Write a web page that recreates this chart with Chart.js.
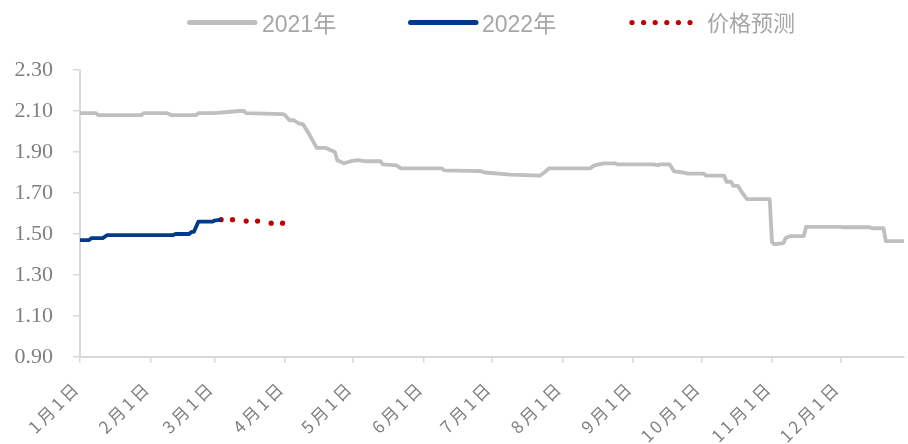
<!DOCTYPE html>
<html><head><meta charset="utf-8">
<script src="https://cdn.jsdelivr.net/npm/chart.js@4"></script>
<style>html,body{margin:0;padding:0;background:#fff;overflow:hidden}canvas{display:block}</style>
</head><body>
<canvas id="c" width="908" height="444"></canvas>
<script>
// ---- data (day of year, price) ----
const days2021 = [0,7,8,27,28,38,40,51,52,59,70,72,73,89,90,92,94,96,98,101,104,108,110,112,113,116,119,122,125,132,133,139,141,159,160,176,178,189,202,204,206,224,226,230,235,236,252,254,255,259,261,265,267,274,275,283,284,286,287,289,291,293,303,304,305,309,310,312,318,319,334,335,347,348,353,354,362];
const values2021 = [2.09,2.09,2.08,2.08,2.09,2.09,2.08,2.08,2.09,2.09,2.10,2.10,2.09,2.085,2.08,2.055,2.055,2.04,2.035,1.98,1.92,1.92,1.91,1.90,1.86,1.845,1.855,1.86,1.855,1.855,1.84,1.835,1.82,1.82,1.81,1.807,1.80,1.79,1.785,1.80,1.82,1.82,1.835,1.845,1.845,1.84,1.84,1.835,1.84,1.84,1.805,1.80,1.795,1.795,1.785,1.785,1.755,1.755,1.735,1.735,1.70,1.67,1.67,1.46,1.45,1.455,1.48,1.49,1.49,1.535,1.535,1.533,1.533,1.528,1.528,1.465,1.465];
const days2022 = [0,4,5,10,12,41,42,48,49,50,52,58,59,62];
const values2022 = [1.47,1.47,1.48,1.48,1.495,1.495,1.50,1.50,1.51,1.51,1.56,1.56,1.565,1.57];
const daysForecast = [62,67,73,78,84,89];
const valuesForecast = [1.57,1.57,1.563,1.563,1.553,1.553];
const tickDays = [0,31,59,90,120,151,181,212,243,273,304,334];
const tickLabels = ['1月1日','2月1日','3月1日','4月1日','5月1日','6月1日','7月1日','8月1日','9月1日','10月1日','11月1日','12月1日'];
const yTicks = [0.9,1.1,1.3,1.5,1.7,1.9,2.1,2.3];
const seriesNames = ['2021年','2022年','价格预测'];

const C2021 = '#bfbfbf', C2022 = '#003a8c', CFC = '#c00000';
function pts(xs, ys){ return xs.map((x,i)=>({x:x, y:ys[i]})); }

const legendPlugin = {
  id:'customLegend',
  afterDraw(chart){
    const ctx = chart.ctx;
    ctx.save();
    ctx.lineCap = 'round';
    ctx.lineWidth = 5;
    ctx.strokeStyle = C2021;
    ctx.beginPath(); ctx.moveTo(189.5,22.5); ctx.lineTo(255,22.5); ctx.stroke();
    ctx.strokeStyle = C2022;
    ctx.beginPath(); ctx.moveTo(410.5,22.5); ctx.lineTo(476,22.5); ctx.stroke();
    ctx.fillStyle = CFC;
    for (let i=0;i<6;i++){ ctx.beginPath(); ctx.arc(632+i*11.6,22.5,2.6,0,Math.PI*2); ctx.fill(); }
    ctx.fillStyle = '#a6a6a6';
    ctx.textBaseline = 'alphabetic';
    ctx.textAlign = 'left';
    ctx.font = "23px 'Liberation Sans', 'Noto Sans CJK SC', sans-serif";
    ctx.fillText(seriesNames[0], 262, 31.5);
    ctx.fillText(seriesNames[1], 482, 31.5);
    ctx.font = "22px 'Noto Sans CJK SC', sans-serif";
    ctx.fillText(seriesNames[2], 707, 31);
    ctx.restore();
  }
};

const spacingPlugin = {
  id:'xLetterSpacing',
  beforeDraw(chart){
    const s = chart.scales.x;
    if (s && !s._lsPatched){
      const orig = s.drawLabels;
      s.drawLabels = function(a){ const ctx=this.ctx; ctx.save(); ctx.letterSpacing='3px'; orig.call(this,a); ctx.restore(); };
      s._lsPatched = true;
    }
  }
};

new Chart(document.getElementById('c'), {
  type:'line',
  data:{ datasets:[
    { label:seriesNames[0], data:pts(days2021,values2021), borderColor:C2021, borderWidth:3.8, pointRadius:0, tension:0, borderJoinStyle:'round', fill:false },
    { label:seriesNames[1], data:pts(days2022,values2022), borderColor:C2022, borderWidth:3.8, pointRadius:0, tension:0, borderJoinStyle:'round', fill:false },
    { label:seriesNames[2], data:pts(daysForecast,valuesForecast), showLine:false, pointRadius:2.6, pointBackgroundColor:CFC, pointBorderWidth:0, borderColor:CFC }
  ]},
  options:{
    responsive:false, animation:false, devicePixelRatio:1,
    layout:{ padding:{ top:70, right:0, bottom:0, left:0 } },
    plugins:{ legend:{display:false}, tooltip:{enabled:false} },
    scales:{
      x:{
        type:'linear', min:0, max:362,
        afterBuildTicks: s => { s.ticks = tickDays.map(v=>({value:v})); },
        afterFit: s => { s.height = 87; s.paddingLeft = 0; s.paddingRight = 0; },
        grid:{ drawOnChartArea:false, drawTicks:true, tickLength:6, color:'#d9d9d9', lineWidth:1.5 },
        border:{ color:'#d9d9d9', width:2 },
        ticks:{ autoSkip:false, minRotation:45, maxRotation:45, padding:14, labelOffset:-3,
          color:'#7f7f7f', font:{ family:"'Noto Sans CJK SC', sans-serif", size:17 },
          callback:(v,i)=>tickLabels[i] }
      },
      y:{
        min:0.9, max:2.3,
        afterBuildTicks: s => { s.ticks = yTicks.map(v=>({value:v})); },
        afterFit: s => { s.width = 80; },
        grid:{ drawOnChartArea:false, drawTicks:true, tickLength:7, color:'#d9d9d9', lineWidth:1.5 },
        border:{ color:'#d9d9d9', width:2 },
        ticks:{ padding:20, color:'#7f7f7f', font:{ family:"'Liberation Serif', serif", size:22 },
          callback:v=>Number(v).toFixed(2) }
      }
    }
  },
  plugins:[spacingPlugin, legendPlugin]
});
</script>
</body></html>
